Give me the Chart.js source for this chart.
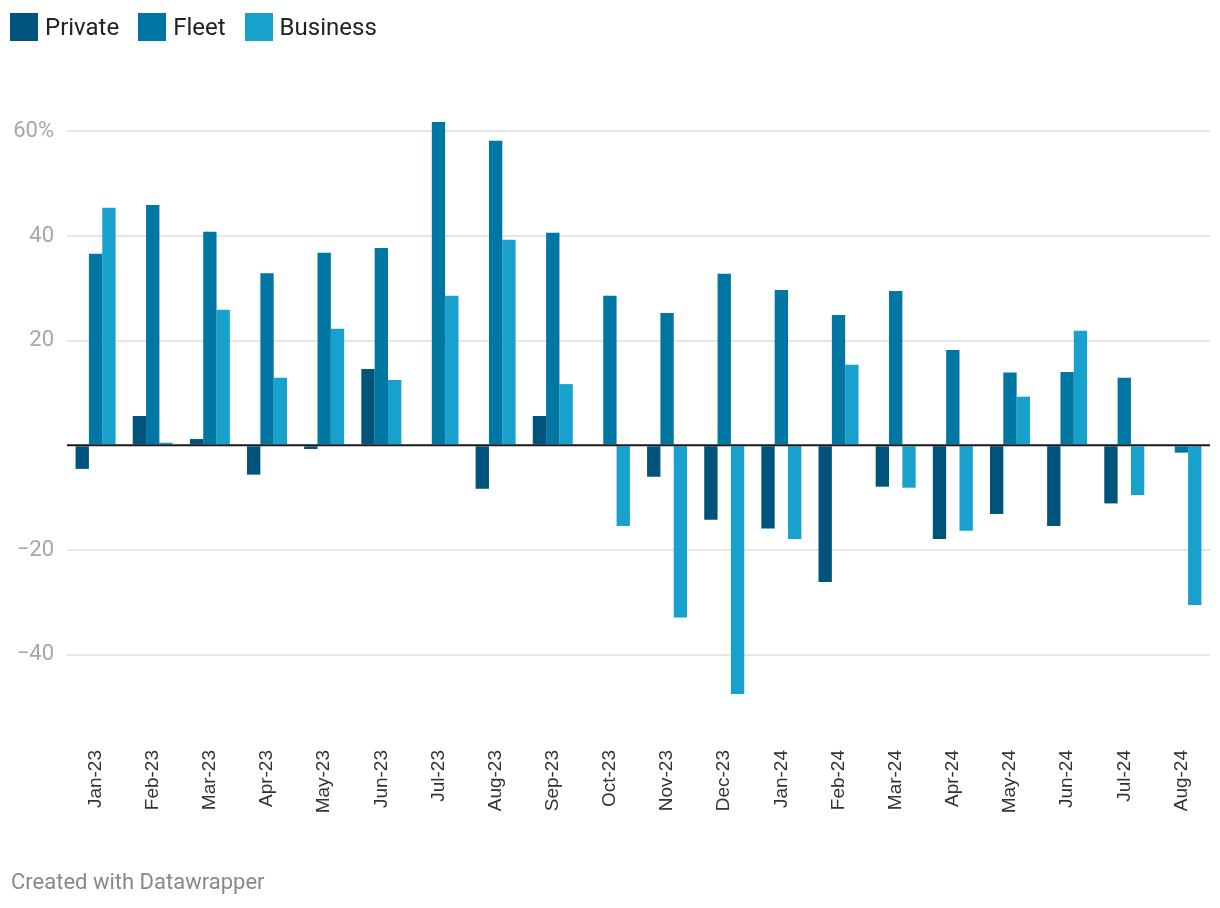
<!DOCTYPE html>
<html>
<head>
<meta charset="utf-8">
<script src="https://cdn.jsdelivr.net/npm/chart.js@4/dist/chart.umd.min.js"></script>
<style>
  html, body { margin: 0; padding: 0; background: #ffffff; }
  #wrap { position: relative; width: 1220px; height: 908px; }
  #legend { position: absolute; left: 10px; top: 13px; display: flex; align-items: center; font-family: Roboto, sans-serif; font-size: 24px; color: #222222; line-height: 28px; }
  .item { display: flex; align-items: center; margin-right: 19px; }
  .box { width: 28px; height: 28px; margin-right: 7px; }
  #footer { position: absolute; left: 11px; top: 869px; font-family: Roboto, sans-serif; font-size: 22px; color: #888888; }
</style>
</head>
<body>
<div id="wrap">
  <canvas id="c" width="1220" height="908"></canvas>
  <div id="legend"></div>
  <div id="footer">Created with Datawrapper</div>
</div>
<script>
const categories = ["Jan-23","Feb-23","Mar-23","Apr-23","May-23","Jun-23","Jul-23","Aug-23","Sep-23","Oct-23","Nov-23","Dec-23","Jan-24","Feb-24","Mar-24","Apr-24","May-24","Jun-24","Jul-24","Aug-24"];
const privateValues  = [-4.5, 5.6, 1.2, -5.6, -0.7, 14.6, 0, -8.3, 5.6, 0, -6.0, -14.2, -15.9, -26.1, -7.9, -17.9, -13.1, -15.4, -11.1, 0];
const fleetValues    = [36.6, 45.9, 40.8, 32.9, 36.8, 37.7, 61.8, 58.2, 40.6, 28.6, 25.3, 32.8, 29.7, 24.9, 29.5, 18.2, 13.9, 14.0, 12.9, -1.4];
const businessValues = [45.4, 0.5, 25.9, 12.9, 22.3, 12.5, 28.6, 39.3, 11.7, -15.4, -32.9, -47.5, -17.9, 15.4, -8.1, -16.3, 9.3, 21.9, -9.5, -30.5];
const yTickValues = [-40, -20, 0, 20, 40, 60];
const seriesNames = ["Private", "Fleet", "Business"];
const seriesColors = ["#00537b", "#0077a3", "#18a1cd"];

const zeroLinePlugin = {
  id: 'zeroLine',
  afterDatasetsDraw(chart) {
    const y = chart.scales.y.getPixelForValue(0);
    const ctx = chart.ctx;
    ctx.save();
    ctx.strokeStyle = '#1a1a1a';
    ctx.lineWidth = 2;
    ctx.beginPath();
    ctx.moveTo(chart.chartArea.left, y);
    ctx.lineTo(chart.chartArea.right, y);
    ctx.stroke();
    ctx.restore();
  }
};

const datasetValues = [privateValues, fleetValues, businessValues];

const chart = new Chart(document.getElementById('c'), {
  type: 'bar',
  data: {
    labels: categories,
    datasets: datasetValues.map((vals, i) => ({
      label: seriesNames[i],
      data: vals,
      backgroundColor: seriesColors[i],
      borderWidth: 0,
      categoryPercentage: 0.7,
      barPercentage: 1.0
    }))
  },
  options: {
    responsive: false,
    animation: false,
    layout: { padding: { left: 0, right: 10, top: 79, bottom: 0 } },
    plugins: {
      tooltip: { enabled: false },
      legend: { display: false }
    },
    scales: {
      x: {
        grid: { display: false, drawTicks: false },
        border: { display: false },
        ticks: {
          autoSkip: false,
          maxRotation: 90,
          minRotation: 90,
          padding: 43,
          color: '#333333',
          font: { family: 'Liberation Sans', size: 19 }
        },
        afterFit(s) { s.height = 201; s.paddingLeft = 0; s.paddingRight = 0; }
      },
      y: {
        min: -50,
        max: 70,
        grid: {
          drawTicks: false,
          color: (ctx) => ctx.tick && ctx.tick.value === 0 ? 'rgba(0,0,0,0)' : '#e6e6e6',
          lineWidth: 2
        },
        border: { display: false },
        ticks: {
          padding: 13,
          color: '#a6a6a6',
          font: { family: 'Roboto', size: 22 },
          callback: (v) => v === 0 ? '' : (v === 60 ? '60%' : (v < 0 ? '\u2212' + Math.abs(v) : String(v)))
        },
        afterBuildTicks(s) { s.ticks = yTickValues.map(v => ({ value: v })); },
        afterFit(s) { s.width = 67; s.paddingTop = 0; s.paddingBottom = 0; }
      }
    }
  },
  plugins: [zeroLinePlugin]
});

// Legend built from the chart's own datasets
const legendEl = document.getElementById('legend');
chart.data.datasets.forEach(ds => {
  const item = document.createElement('div');
  item.className = 'item';
  const box = document.createElement('div');
  box.className = 'box';
  box.style.background = ds.backgroundColor;
  const txt = document.createElement('span');
  txt.textContent = ds.label;
  item.appendChild(box);
  item.appendChild(txt);
  legendEl.appendChild(item);
});
</script>
</body>
</html>
